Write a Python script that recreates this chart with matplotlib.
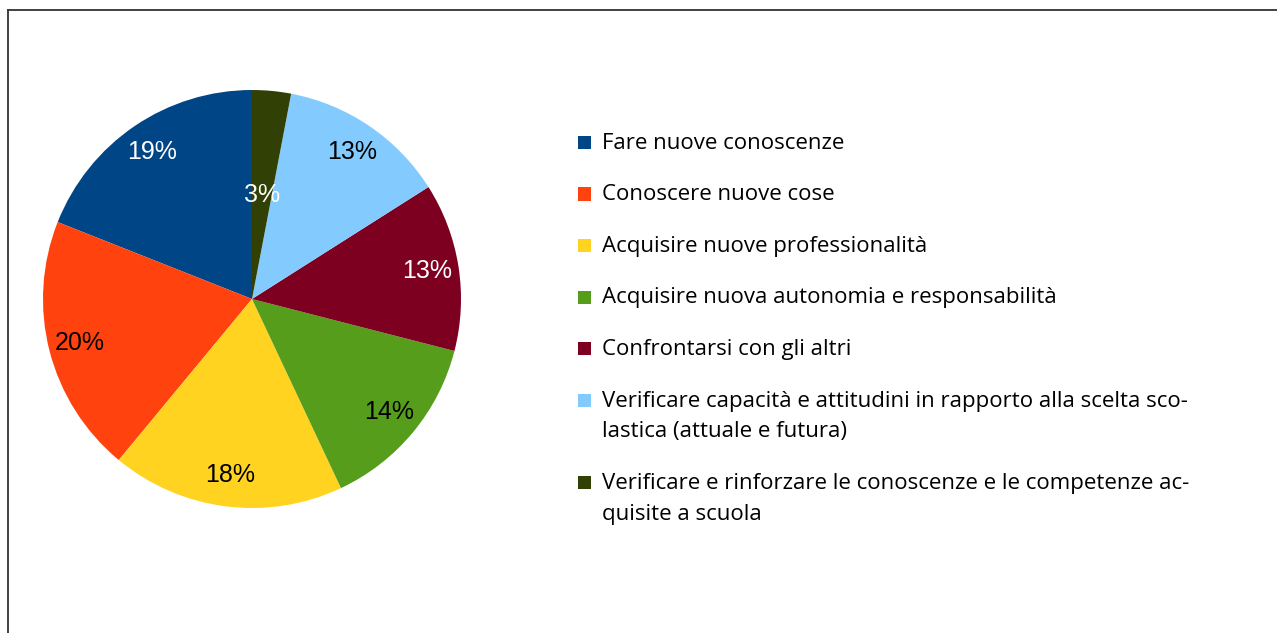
import matplotlib
matplotlib.use('Agg')
import matplotlib.pyplot as plt
from matplotlib.patches import Rectangle
from matplotlib.lines import Line2D
import numpy as np

# Data
labels = [
    'Fare nuove conoscenze',
    'Conoscere nuove cose',
    'Acquisire nuove professionalità',
    'Acquisire nuova autonomia e responsabilità',
    'Confrontarsi con gli altri',
    'Verificare capacità e attitudini in rapporto alla scelta sco-\nlastica (attuale e futura)',
    'Verificare e rinforzare le conoscenze e le competenze ac-\nquisite a scuola',
]
values = [19, 20, 18, 14, 13, 13, 3]
colors = ['#004586', '#ff420e', '#ffd320', '#579d1c', '#7e0021', '#83caff', '#314004']
label_colors = ['white', 'black', 'black', 'black', 'white', 'black', 'white']

W, H = 1277, 633
fig = plt.figure(figsize=(W / 100, H / 100), dpi=100)


def fx(px):
    return px / W


def fy(py):
    # pixel y measured from top
    return 1 - py / H


# frame lines (top and left only)
fig.add_artist(Line2D([fx(8), 1], [fy(10), fy(10)], color='#333333', lw=1.3))
fig.add_artist(Line2D([fx(8), fx(8)], [fy(10), 0], color='#333333', lw=1.3))

# pie
cx, cy, r = 252, 299, 209
ax = fig.add_axes([fx(cx - r), fy(cy + r), fx(2 * r), (2 * r) / H])
wedges, texts, autotexts = ax.pie(
    values, colors=colors, startangle=90, counterclock=True,
    autopct='%1.0f%%', pctdistance=0.85,
    textprops=dict(family='Liberation Sans', fontsize=18),
    wedgeprops=dict(linewidth=0))
ax.set_xlim(-1, 1)
ax.set_ylim(-1, 1)
ax.set_aspect('equal')

for t, c in zip(autotexts, label_colors):
    t.set_color(c)

# the small slice has its label pulled toward the centre
w = wedges[-1]
mid = np.deg2rad((w.theta1 + w.theta2) / 2)
autotexts[-1].set_position((0.5 * np.cos(mid), 0.5 * np.sin(mid)))

# legend drawn by hand
base = 149
sq = 13
for lab, col in zip(labels, colors):
    lines = lab.split('\n')
    fig.add_artist(Rectangle((fx(578), fy(base)), fx(sq), sq / H,
                             facecolor=col, edgecolor='none'))
    for i, line in enumerate(lines):
        fig.text(fx(602), fy(base + 31 * i), line, family='Open Sans',
                 fontsize=16, va='baseline', ha='left', color='black')
    base += 31 * (len(lines) - 1) + 51.5

fig.savefig('out.png', dpi=100)
